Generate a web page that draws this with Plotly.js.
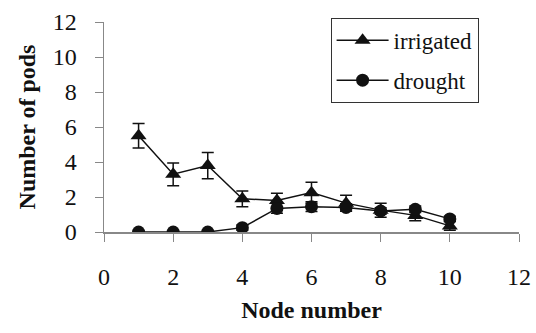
<!DOCTYPE html>
<html>
<head>
<meta charset="utf-8">
<script src="https://cdn.plot.ly/plotly-3.0.1.min.js"></script>
<style>html,body{margin:0;padding:0;background:#fff;}#chart{width:536px;height:333px;}</style>
</head>
<body>
<div id="chart"></div>
<script>
var nodes = [1, 2, 3, 4, 5, 6, 7, 8, 9, 10];
var irrigated = [5.5, 3.3, 3.8, 1.9, 1.8, 2.25, 1.65, 1.25, 0.95, 0.35];
var irrigatedErr = [0.7, 0.65, 0.75, 0.45, 0.42, 0.6, 0.45, 0.4, 0.3, 0.25];
var drought = [0, 0, 0, 0.25, 1.35, 1.45, 1.4, 1.2, 1.3, 0.75];
var droughtErr = [0, 0, 0, 0.15, 0.28, 0.28, 0.22, 0.18, 0.18, 0.15];
var xTicks = [0, 2, 4, 6, 8, 10, 12];
var yTicks = [0, 2, 4, 6, 8, 10, 12];
var seriesNames = ['irrigated', 'drought'];

var font = '"Liberation Serif", "Times New Roman", serif';
var traces = [
  {
    x: nodes, y: irrigated, name: seriesNames[0], legendgroup: 'g1', type: 'scatter', mode: 'lines+markers',
    line: {color: '#111', width: 1.5},
    marker: {symbol: 'triangle-up', size: 14, color: '#111'},
    error_y: {type: 'data', array: irrigatedErr, visible: true, color: '#111', thickness: 1.5, width: 6}
  },
  {
    x: nodes, y: drought, name: seriesNames[1], legendgroup: 'g2', type: 'scatter', mode: 'lines+markers',
    line: {color: '#111', width: 1.5},
    marker: {symbol: 'circle', size: 13, color: '#111'},
    error_y: {type: 'data', array: droughtErr, visible: true, color: '#111', thickness: 1.5, width: 6}
  }
];

var layout = {
  width: 536, height: 333,
  margin: {l: 104, r: 17, t: 22, b: 101},
  paper_bgcolor: '#fff', plot_bgcolor: '#fff',
  font: {family: font, color: '#111', size: 24},
  showlegend: true,
  legend: {
    x: 0.546, y: 1.02, xanchor: 'left', yanchor: 'top',
    bordercolor: '#333', borderwidth: 1, bgcolor: '#fff',
    font: {family: font, size: 23, color: '#111'},
    traceorder: 'grouped', tracegroupgap: 7, itemwidth: 52
  },
  xaxis: {
    range: [0, 12], tickvals: xTicks, ticktext: xTicks.map(String),
    showgrid: false, zeroline: false, showline: true, linecolor: '#888', linewidth: 1.5,
    ticks: 'outside', ticklen: 8, tickcolor: '#888', tickwidth: 1,
    ticklabelstandoff: 15,
    tickfont: {family: font, size: 24, color: '#111'},
    title: {text: '<b>Node number</b>', font: {family: font, size: 24, color: '#111'}, standoff: 12}
  },
  yaxis: {
    range: [0, 12], tickvals: yTicks, ticktext: yTicks.map(String),
    showgrid: false, zeroline: false, showline: true, linecolor: '#888', linewidth: 1.5,
    ticks: 'outside', ticklen: 8, tickcolor: '#888', tickwidth: 1,
    ticklabelstandoff: 13,
    tickfont: {family: font, size: 24, color: '#111'},
    title: {text: '<b>Number of pods</b>', font: {family: font, size: 24, color: '#111'}, standoff: 10}
  }
};

Plotly.newPlot('chart', traces, layout, {displayModeBar: false, staticPlot: true});
</script>
</body>
</html>
